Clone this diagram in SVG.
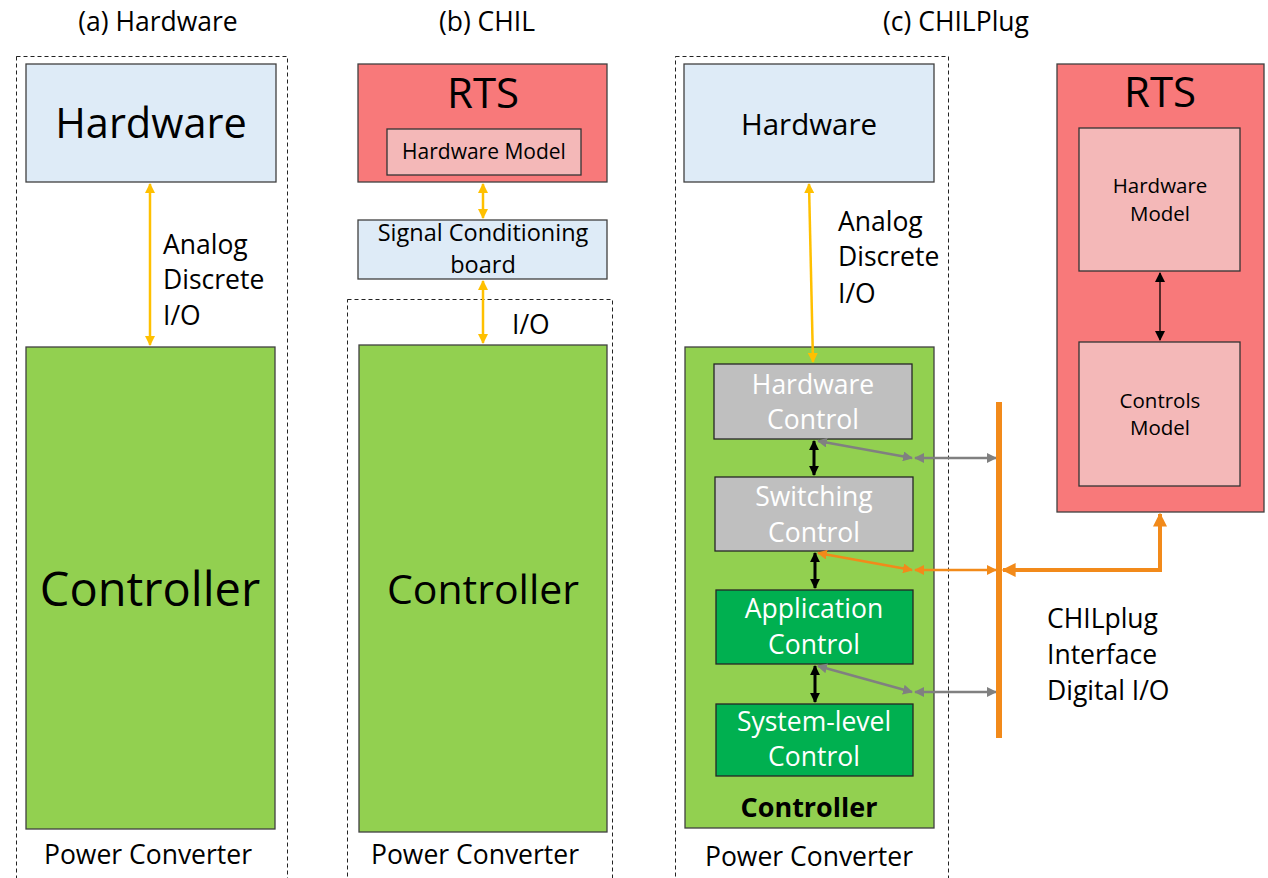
<svg xmlns="http://www.w3.org/2000/svg" width="1268" height="878" viewBox="0 0 1268 878">
  <style>
    text { font-family: "Open Sans", Lato, "Liberation Sans", sans-serif; fill: #000; }
    .c { text-anchor: middle; }
    .w { fill: #fff; }
    .dash { fill: none; stroke: #222; stroke-width: 1; stroke-dasharray: 4 3; }
    .blue { fill: #DEEBF7; stroke: #404040; stroke-width: 1.3; }
    .green { fill: #92D050; stroke: #404040; stroke-width: 1.3; }
    .rts { fill: #F8797A; stroke: #404040; stroke-width: 1.3; }
    .pink { fill: #F4B8B8; stroke: #333; stroke-width: 1.3; }
    .gray { fill: #BFBFBF; stroke: #262626; stroke-width: 1.3; }
    .dgreen { fill: #00B050; stroke: #262626; stroke-width: 1.3; }
    .ya { fill: none; stroke: #FFC000; stroke-width: 2.5; marker-start: url(#mY); marker-end: url(#mY); }
    .ba { fill: none; stroke: #000; stroke-width: 3; marker-start: url(#mB); marker-end: url(#mB); }
    .ta { fill: none; stroke: #000; stroke-width: 1.3; marker-start: url(#mT); marker-end: url(#mT); }
    .ga { fill: none; stroke: #808080; stroke-width: 2.5; marker-start: url(#mG); marker-end: url(#mG); }
    .oa { fill: none; stroke: #F28A1A; stroke-width: 2.5; marker-start: url(#mO); marker-end: url(#mO); }
  </style>
  <defs>
    <marker id="mY" viewBox="0 0 10 10" refX="9" refY="5" markerWidth="4" markerHeight="4" orient="auto-start-reverse" markerUnits="strokeWidth">
      <path d="M0,0 L10,5 L0,10 z" fill="#FFC000"/>
    </marker>
    <marker id="mB" viewBox="0 0 10 10" refX="9" refY="5" markerWidth="3.3" markerHeight="3.3" orient="auto-start-reverse" markerUnits="strokeWidth">
      <path d="M0,0 L10,5 L0,10 z" fill="#000"/>
    </marker>
    <marker id="mT" viewBox="0 0 10 10" refX="9" refY="5" markerWidth="8" markerHeight="8" orient="auto-start-reverse" markerUnits="strokeWidth">
      <path d="M0,0 L10,5 L0,10 z" fill="#000"/>
    </marker>
    <marker id="mG" viewBox="0 0 10 10" refX="9" refY="5" markerWidth="4" markerHeight="4" orient="auto-start-reverse" markerUnits="strokeWidth">
      <path d="M0,0 L10,5 L0,10 z" fill="#808080"/>
    </marker>
    <marker id="mO" viewBox="0 0 10 10" refX="9" refY="5" markerWidth="4" markerHeight="4" orient="auto-start-reverse" markerUnits="strokeWidth">
      <path d="M0,0 L10,5 L0,10 z" fill="#F28A1A"/>
    </marker>
    <marker id="mO2" viewBox="0 0 10 10" refX="9" refY="5" markerWidth="3.5" markerHeight="3.5" orient="auto-start-reverse" markerUnits="strokeWidth">
      <path d="M0,0 L10,5 L0,10 z" fill="#F28A1A"/>
    </marker>
  </defs>

  <!-- panel titles -->
  <g id="titles">
    <text class="c" x="158" y="31" font-size="26.5">(a) Hardware</text>
    <text class="c" x="487" y="31" font-size="26.5">(b) CHIL</text>
    <text class="c" x="956" y="31" font-size="26.5">(c) CHILPlug</text>
  </g>

  <!-- (a) hardware setup -->
  <g id="a-converter">
    <rect class="dash" x="16.5" y="56.5" width="271" height="830"/>
    <text class="c" x="148" y="864" font-size="26.5">Power Converter</text>
  </g>
  <g id="a-hardware">
    <rect class="blue" x="26" y="64" width="250" height="118"/>
    <text class="c" x="151" y="138" font-size="41.5">Hardware</text>
  </g>
  <g id="a-controller">
    <rect class="green" x="26" y="347" width="249" height="482"/>
    <text class="c" x="150" y="606" font-size="47">Controller</text>
  </g>
  <g id="a-io-label">
    <text x="163" y="254" font-size="26.5">Analog</text>
    <text x="163" y="289" font-size="26.5">Discrete</text>
    <text x="163" y="325" font-size="26.5">I/O</text>
  </g>

  <!-- (b) CHIL setup -->
  <g id="b-rts">
    <rect class="rts" x="358" y="64" width="249" height="118"/>
    <text class="c" x="483" y="108" font-size="42">RTS</text>
  </g>
  <g id="b-hardware-model">
    <rect class="pink" x="387" y="129" width="194" height="46"/>
    <text class="c" x="484" y="159" font-size="21">Hardware Model</text>
  </g>
  <g id="b-signal-board">
    <rect class="blue" x="358" y="220" width="249" height="59"/>
    <text class="c" x="483" y="241" font-size="23.5">Signal Conditioning</text>
    <text class="c" x="483" y="273" font-size="23.5">board</text>
  </g>
  <g id="b-converter">
    <rect class="dash" x="347.5" y="299.5" width="265" height="587"/>
    <text x="512" y="334" font-size="26.5">I/O</text>
    <text class="c" x="475" y="864" font-size="26.5">Power Converter</text>
  </g>
  <g id="b-controller">
    <rect class="green" x="359" y="345" width="248" height="487"/>
    <text class="c" x="483" y="604" font-size="41">Controller</text>
  </g>

  <!-- (c) CHILPlug setup -->
  <g id="c-converter">
    <rect class="dash" x="675.5" y="56.5" width="273" height="830"/>
    <text class="c" x="809" y="866" font-size="26.5">Power Converter</text>
  </g>
  <g id="c-hardware">
    <rect class="blue" x="684" y="64" width="250" height="118"/>
    <text class="c" x="809" y="135" font-size="29.5">Hardware</text>
  </g>
  <g id="c-io-label">
    <text x="838" y="231" font-size="26.5">Analog</text>
    <text x="838" y="266" font-size="26.5">Discrete</text>
    <text x="838" y="303" font-size="26.5">I/O</text>
  </g>
  <g id="c-controller">
    <rect class="green" x="685" y="347" width="249" height="481"/>
    <text class="c" x="809" y="817" font-size="27" font-weight="bold">Controller</text>
  </g>
  <g id="c-hardware-control">
    <rect class="gray" x="714" y="364" width="198" height="75"/>
    <text class="c w" x="813" y="394" font-size="26.5">Hardware</text>
    <text class="c w" x="813" y="429" font-size="26.5">Control</text>
  </g>
  <g id="c-switching-control">
    <rect class="gray" x="715" y="477" width="198" height="74"/>
    <text class="c w" x="814" y="506" font-size="26.5">Switching</text>
    <text class="c w" x="814" y="542" font-size="26.5">Control</text>
  </g>
  <g id="c-application-control">
    <rect class="dgreen" x="716" y="590" width="197" height="74"/>
    <text class="c w" x="814" y="618" font-size="26.5">Application</text>
    <text class="c w" x="814" y="654" font-size="26.5">Control</text>
  </g>
  <g id="c-system-control">
    <rect class="dgreen" x="716" y="704" width="197" height="72"/>
    <text class="c w" x="814" y="731" font-size="26.5">System-level</text>
    <text class="c w" x="814" y="766" font-size="26.5">Control</text>
  </g>
  <g id="c-rts">
    <rect class="rts" x="1057" y="64" width="207" height="448"/>
    <text class="c" x="1160" y="107" font-size="42">RTS</text>
  </g>
  <g id="c-hardware-model">
    <rect class="pink" x="1079" y="128" width="161" height="143"/>
    <text class="c" x="1160" y="193" font-size="20.5">Hardware</text>
    <text class="c" x="1160" y="221" font-size="20.5">Model</text>
  </g>
  <g id="c-controls-model">
    <rect class="pink" x="1079" y="342" width="161" height="144"/>
    <text class="c" x="1160" y="408" font-size="20.5">Controls</text>
    <text class="c" x="1160" y="435" font-size="20.5">Model</text>
  </g>
  <g id="c-interface-label">
    <text x="1047" y="628" font-size="26.5">CHILplug</text>
    <text x="1047" y="664" font-size="26.5">Interface</text>
    <text x="1047" y="700" font-size="26.5">Digital I/O</text>
  </g>

  <!-- connectors -->
  <g id="connectors">
    <line class="ya" x1="150" y1="184" x2="150" y2="345"/>
    <line class="ya" x1="483" y1="184" x2="483" y2="218"/>
    <line class="ya" x1="483" y1="281" x2="483" y2="343"/>
    <line class="ya" x1="809" y1="184" x2="813" y2="362"/>

    <line class="ba" x1="814" y1="441" x2="814" y2="475"/>
    <line class="ba" x1="815" y1="553" x2="815" y2="588"/>
    <line class="ba" x1="815" y1="666" x2="815" y2="702"/>

    <line class="ga" x1="818" y1="441" x2="912" y2="458"/>
    <line class="ga" x1="915" y1="458" x2="996" y2="458"/>
    <line class="oa" x1="818" y1="553" x2="912" y2="570"/>
    <line class="oa" x1="915" y1="570" x2="996" y2="570"/>
    <line class="ga" x1="818" y1="666" x2="912" y2="692"/>
    <line class="ga" x1="915" y1="692" x2="996" y2="692"/>

    <!-- CHILplug digital bus -->
    <line x1="999" y1="402" x2="999" y2="738" stroke="#F28A1A" stroke-width="6"/>
    <polyline points="1003,570 1160,570 1160,514" fill="none" stroke="#F28A1A" stroke-width="4" marker-start="url(#mO2)" marker-end="url(#mO2)"/>

    <line class="ta" x1="1160" y1="273" x2="1160" y2="340"/>
  </g>
</svg>
